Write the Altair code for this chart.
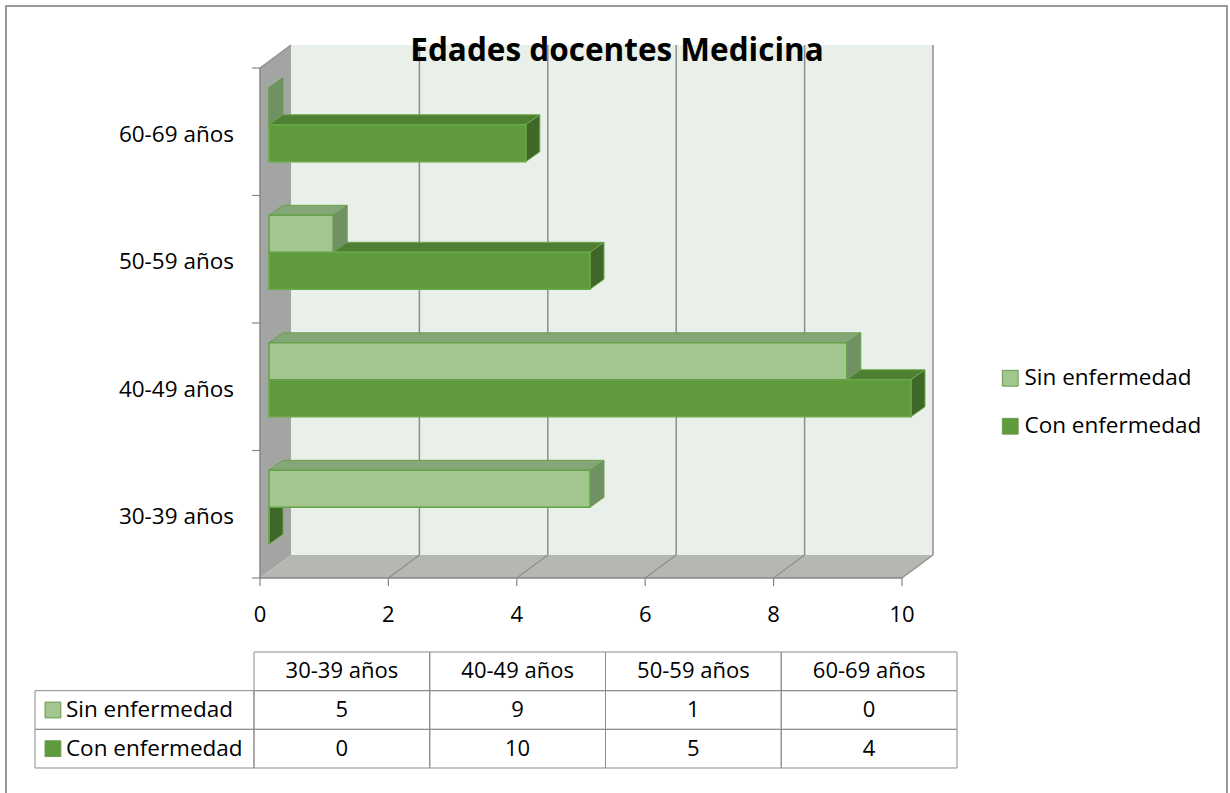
import altair as alt
import pandas as pd

# ---------------- data ----------------
categories = ["30-39 años", "40-49 años", "50-59 años", "60-69 años"]
series = ["Sin enfermedad", "Con enfermedad"]
sin_vals = [5, 9, 1, 0]
con_vals = [0, 10, 5, 4]
x_ticks = [0, 2, 4, 6, 8, 10]
title_text = "Edades docentes Medicina"

FONT = "Open Sans"
W, H = 1230, 793

# ---------------- styles ----------------
front_col = {"Sin enfermedad": "#a3c68f", "Con enfermedad": "#5f9b3d"}
top_col = {"Sin enfermedad": "#84a777", "Con enfermedad": "#4e7f32"}
side_col = {"Sin enfermedad": "#6f9163", "Con enfermedad": "#3f6828"}
edge_col = {"Sin enfermedad": "#67a04b", "Con enfermedad": "#6aa84a"}

# main plot scales (data units -> pixels)
XS = alt.Scale(domain=[0, 10], range=[260, 902], nice=False, zero=False)
YS = alt.Scale(domain=[-0.5, 3.5], range=[578, 68], nice=False, zero=False)

# geometry in data units
BX, BY, BH = 0.14, 0.055, 0.29     # bar offset into depth, bar height
DX, DY = 0.218, 0.078              # bar depth
FX, FY = 0.483, 0.18               # floor / wall depth
Y0, Y1 = -0.5, 3.5
XMAX = 10

GRID = "#8e8e8e"
AXIS = "#868686"


def X(f, **kw):
    return alt.X(f, type="quantitative", scale=XS, axis=None, **kw)


def Y(f, **kw):
    return alt.Y(f, type="quantitative", scale=YS, axis=None, **kw)


# ---------------- walls ----------------
back = alt.Chart(pd.DataFrame({"x": [FX], "x2": [XMAX + FX], "y": [Y0 + FY], "y2": [Y1 + FY]})).mark_rect(
    color="#e9efe9"
).encode(x=X("x"), x2="x2", y=Y("y"), y2="y2")

side = alt.Chart(pd.DataFrame({"x": [0, FX], "y": [Y0, Y0 + FY], "y2": [Y1, Y1 + FY]})).mark_area(
    orient="vertical", color="#a3a5a2"
).encode(x=X("x"), y=Y("y"), y2="y2")

floor = alt.Chart(pd.DataFrame({"y": [Y0, Y0 + FY], "x": [0, FX], "x2": [XMAX, XMAX + FX]})).mark_area(
    orient="horizontal", color="#b5b7b3"
).encode(y=Y("y"), x=X("x"), x2="x2")

grid_df = pd.DataFrame({"t": x_ticks[1:]})
grid_df["tb"] = grid_df["t"] + FX
grid_df["ya"] = Y0 + FY
grid_df["yb"] = Y1 + FY
grid_df["yf"] = Y0
back_grid = alt.Chart(grid_df).mark_rule(color=GRID, strokeWidth=1.5).encode(
    x=X("tb"), y=Y("ya"), y2="yb"
)
floor_grid = alt.Chart(grid_df).mark_rule(color=GRID, strokeWidth=1.2).encode(
    x=X("t"), x2="tb", y=Y("yf"), y2="ya"
)
side_top = alt.Chart(pd.DataFrame({"x": [0], "x2": [FX], "y": [Y1], "y2": [Y1 + FY]})).mark_rule(
    color=GRID, strokeWidth=1.2
).encode(x=X("x"), x2="x2", y=Y("y"), y2="y2")

# ---------------- axes ----------------
yaxis_line = alt.Chart(pd.DataFrame({"x": [0], "y": [Y0], "y2": [Y1]})).mark_rule(
    color=AXIS, strokeWidth=1.5
).encode(x=X("x"), y=Y("y"), y2="y2")
xaxis_line = alt.Chart(pd.DataFrame({"x": [0], "x2": [XMAX], "y": [Y0]})).mark_rule(
    color=AXIS, strokeWidth=1.5
).encode(x=X("x"), x2="x2", y=Y("y"))

ytick_df = pd.DataFrame({"b": [i - 0.5 for i in range(len(categories) + 1)]})
ytick_df["xa"] = -0.125
ytick_df["xb"] = 0
yticks = alt.Chart(ytick_df).mark_rule(color=AXIS, strokeWidth=1.2).encode(
    x=X("xa"), x2="xb", y=Y("b")
)
xtick_df = pd.DataFrame({"t": x_ticks})
xtick_df["ya"] = Y0
xtick_df["yb"] = Y0 - 0.063
xticks = alt.Chart(xtick_df).mark_rule(color=AXIS, strokeWidth=1.2).encode(
    x=X("t"), y=Y("ya"), y2="yb"
)
xlabels = alt.Chart(xtick_df).mark_text(font=FONT, fontSize=22, color="black", baseline="middle").encode(
    x=X("t"), y=alt.value(615), text="t:Q"
)
cat_df = pd.DataFrame({"cat": categories, "i": list(range(len(categories)))})
ylabels = alt.Chart(cat_df).mark_text(
    font=FONT, fontSize=22.5, color="black", align="right", baseline="middle", dy=3
).encode(x=alt.value(234), y=Y("i"), text="cat:N")

# ---------------- bars ----------------
rows = []
for i, cat in enumerate(categories):
    for s, vals in ((series[0], sin_vals), (series[1], con_vals)):
        v = vals[i]
        if s == series[0]:
            yb = i + BY
            yt = yb + BH
        else:
            yt = i + BY
            yb = yt - BH
        rows.append(dict(id=f"{s}-{i}", series=s, cat=cat, v=v, x0=BX, x1=BX + v, yb=yb, yt=yt))
bars = pd.DataFrame(rows)

CS = alt.Scale(domain=series, range=[front_col[s] for s in series])
LEG = alt.Legend(
    orient="none", legendX=999, legendY=367, title=None, symbolType="square", symbolSize=250,
    labelFontSize=22.5, labelFont=FONT, labelColor="black", rowPadding=25, labelOffset=3,
    labelLimit=400, symbolStrokeColor="#6a9a4f", symbolStrokeWidth=1,
)


def bar_layers(s):
    d = bars[bars["series"] == s]
    front = alt.Chart(d).mark_rect(stroke=edge_col[s], strokeWidth=1.5).encode(
        x=X("x0"), x2="x1", y=Y("yb"), y2="yt",
        color=alt.Color("series:N", scale=CS, legend=LEG),
    )
    top_rows, side_rows = [], []
    for _, r in d.iterrows():
        top_rows.append(dict(id=r.id, y=r.yt, xa=r.x0, xb=r.x1))
        top_rows.append(dict(id=r.id, y=r.yt + DY, xa=r.x0 + DX, xb=r.x1 + DX))
        side_rows.append(dict(id=r.id, x=r.x1, ya=r.yb, yb=r.yt))
        side_rows.append(dict(id=r.id, x=r.x1 + DX, ya=r.yb + DY, yb=r.yt + DY))
    top = alt.Chart(pd.DataFrame(top_rows)).mark_area(
        orient="horizontal", color=top_col[s], stroke=edge_col[s], strokeWidth=1
    ).encode(y=Y("y"), x=X("xa"), x2="xb", detail="id:N")
    sidef = alt.Chart(pd.DataFrame(side_rows)).mark_area(
        orient="vertical", color=side_col[s], stroke=edge_col[s], strokeWidth=1
    ).encode(x=X("x"), y=Y("ya"), y2="yb", detail="id:N")
    return [top, sidef, front]


main = alt.layer(
    back, side, floor, back_grid, floor_grid, side_top,
    yaxis_line, xaxis_line, yticks, xticks,
    *bar_layers(series[1]), *bar_layers(series[0]),
    xlabels, ylabels,
)

# ---------------- data table ----------------
LW = 1.246  # width of label column relative to a value column
TXS = alt.Scale(domain=[-LW, 4], range=[35, 957], nice=False, zero=False)
TYS = alt.Scale(domain=[0, 3], range=[652, 768], nice=False, zero=False)

cells = []
for c, cat in enumerate(categories):
    cells.append(dict(xa=c, xb=c + 1, ya=0, yb=1, txt=cat))
for r, (s, vals) in enumerate(((series[0], sin_vals), (series[1], con_vals)), start=1):
    cells.append(dict(xa=-LW, xb=0, ya=r, yb=r + 1, txt=""))
    for c, v in enumerate(vals):
        cells.append(dict(xa=c, xb=c + 1, ya=r, yb=r + 1, txt=str(v)))
cells = pd.DataFrame(cells)
cells["xm"] = (cells["xa"] + cells["xb"]) / 2
cells["ym"] = (cells["ya"] + cells["yb"]) / 2

TX = lambda f: alt.X(f, type="quantitative", scale=TXS, axis=None)
TY = lambda f: alt.Y(f, type="quantitative", scale=TYS, axis=None)

table_grid = alt.Chart(cells).mark_rect(filled=False, stroke="#8c8c8c", strokeWidth=1).encode(
    x=TX("xa"), x2="xb", y=TY("ya"), y2="yb"
)
table_text = alt.Chart(cells).mark_text(font=FONT, fontSize=22, color="black", baseline="middle").encode(
    x=TX("xm"), y=TY("ym"), text="txt:N"
)
lab_df = pd.DataFrame({"series": series, "r": [1.5, 2.5]})
lab_df["xs"] = -LW + 0.102
lab_df["xt"] = -LW + 0.176
lab_df["fillc"] = lab_df["series"].map(front_col)
table_sq = alt.Chart(lab_df).mark_square(size=250, opacity=1, filled=True, stroke="#6a9a4f", strokeWidth=1).encode(
    x=TX("xs"), y=TY("r"), color=alt.Color("fillc:N", scale=None)
)
table_lab = alt.Chart(lab_df).mark_text(font=FONT, fontSize=22.5, color="black", align="left", baseline="middle").encode(
    x=TX("xt"), y=TY("r"), text="series:N"
)
table = alt.layer(table_grid, table_text, table_sq, table_lab)

# ---------------- title & border ----------------
title = alt.Chart(pd.DataFrame({"t": [title_text]})).mark_text(
    font=FONT, fontSize=31.5, fontWeight="bold", color="black", align="center", baseline="middle"
).encode(x=alt.value(617), y=alt.value(52), text="t:N")

border = alt.Chart(pd.DataFrame({"a": [0]})).mark_rect(filled=False, stroke="#999999", strokeWidth=2).encode(
    x=alt.value(6), x2=alt.value(1227), y=alt.value(6), y2=alt.value(810)
)

chart = alt.layer(border, main, table, title).resolve_scale(
    x="independent", y="independent"
).properties(
    width=W, height=H, autosize=alt.AutoSizeParams(type="none"), padding=0, background="white"
).configure_view(strokeWidth=0)

chart.save("out.html", embed_options={"renderer": "svg", "actions": False})
